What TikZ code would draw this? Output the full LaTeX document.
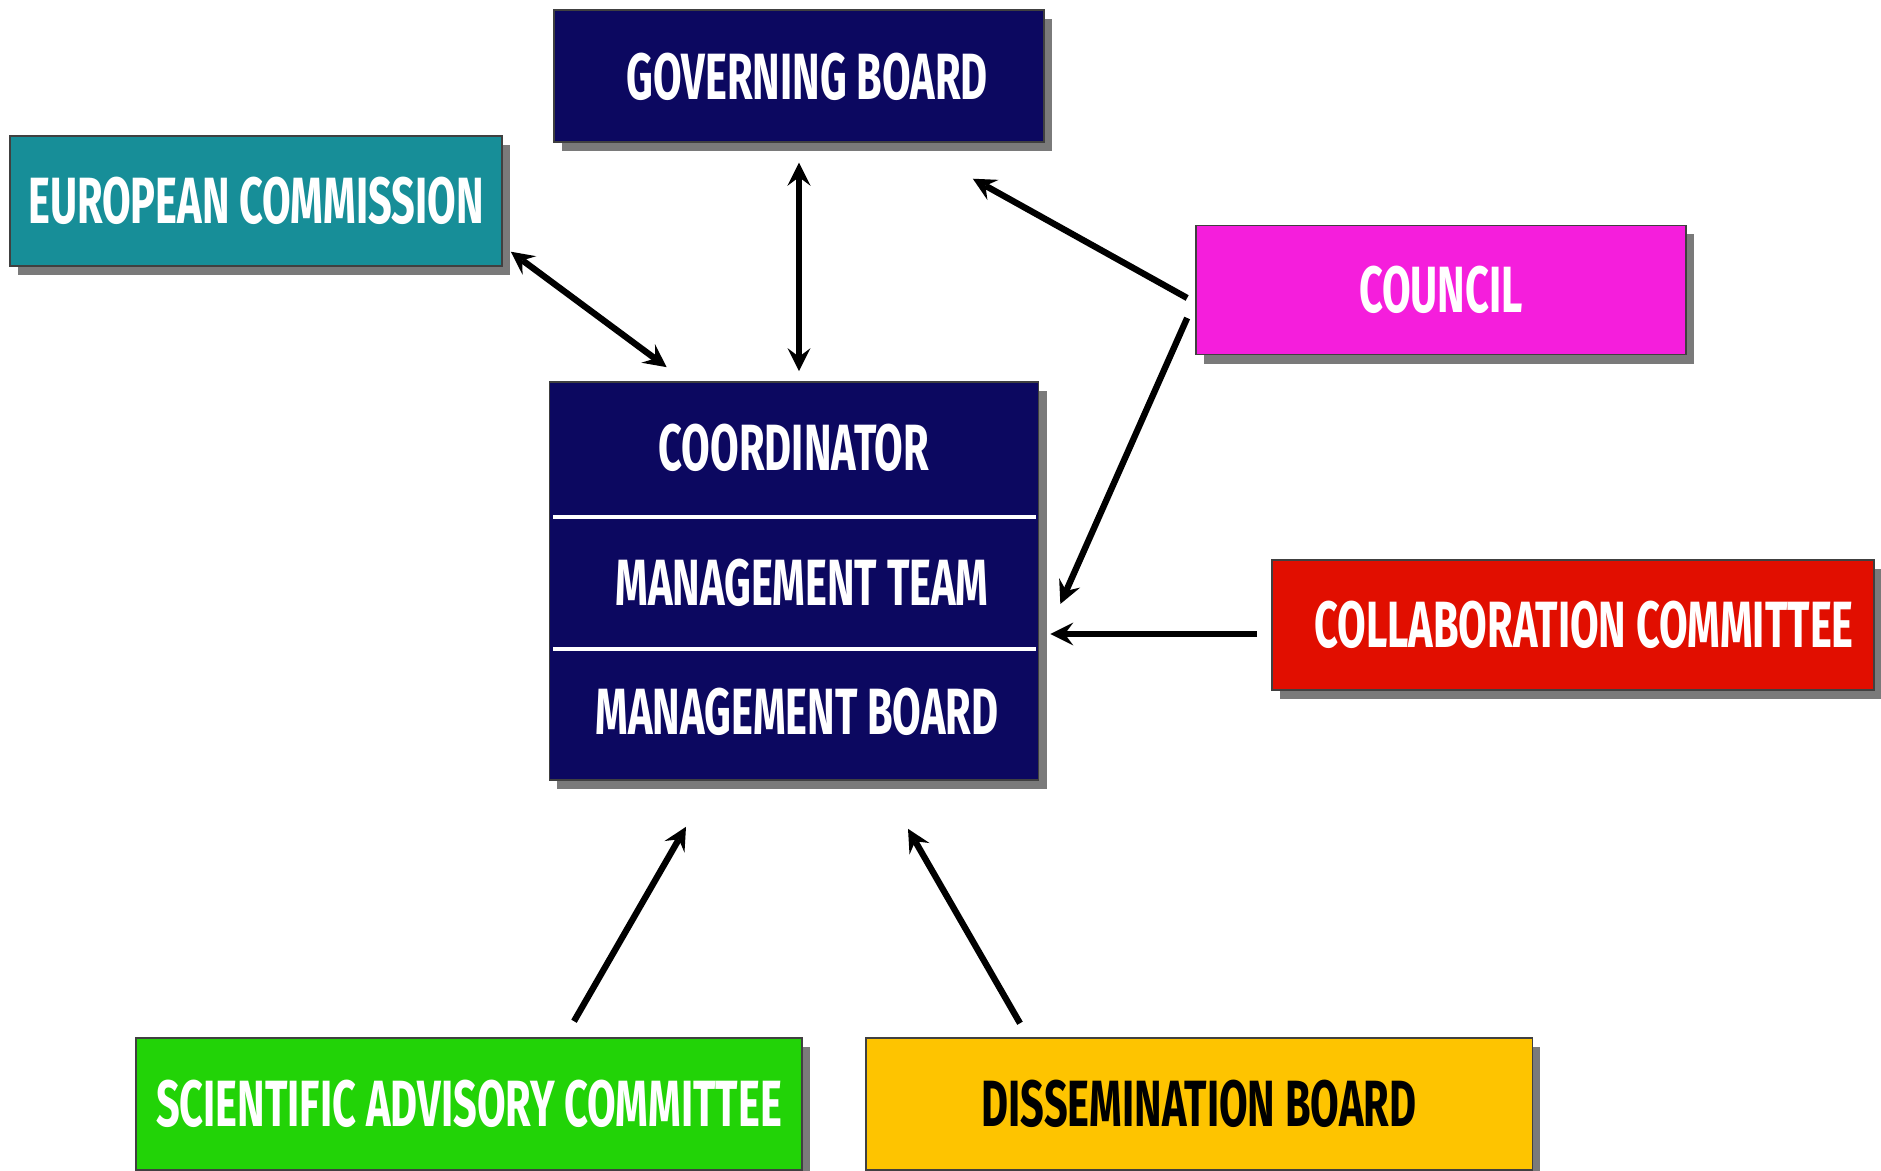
\documentclass[tikz,border=0pt]{standalone}
\usepackage{fontspec}
\setmainfont{Fira Sans}[FakeStretch=0.635]
\usetikzlibrary{calc,shadows}
\definecolor{boardnavy}{RGB}{12,8,96}
\definecolor{commteal}{RGB}{23,142,152}
\definecolor{councilpink}{RGB}{245,30,220}
\definecolor{collabred}{RGB}{225,14,0}
\definecolor{sciencegreen}{RGB}{34,211,7}
\definecolor{dissyellow}{RGB}{254,196,0}

\begin{document}
\begin{tikzpicture}[x=0.01cm, y=-0.01cm, >=stealth, line width=1.8pt]
	\tikzstyle{every node}=[rectangle, inner sep=0pt, text=white, font=\bfseries\fontsize{18.6}{20}\selectfont]
	\tikzstyle{unit}=[draw=black!75, line width=0.4pt, drop shadow={shadow xshift=0.08cm, shadow yshift=-0.09cm, fill=black!80, opacity=0.65}]
	\useasboundingbox (0,0) rectangle (1881,1171);

	\draw (799,76) node[unit, fill=boardnavy, minimum width=4.9cm, minimum height=1.32cm, text depth=0pt] (gb) {\hspace*{0.16cm}GOVERNING BOARD};
	\draw (256,201) node[unit, fill=commteal, minimum width=4.92cm, minimum height=1.3cm] (ec) {EUROPEAN COMMISSION};
	\draw (1441,290) node[unit, fill=councilpink, minimum width=4.9cm, minimum height=1.29cm] (council) {COUNCIL};
	\draw (1573,625) node[unit, fill=collabred, minimum width=6.02cm, minimum height=1.3cm] (cc) {\hspace*{0.22cm}COLLABORATION COMMITTEE};
	\draw (469,1104) node[unit, fill=sciencegreen, minimum width=6.66cm, minimum height=1.32cm] (sac) {SCIENTIFIC ADVISORY COMMITTEE};
	\draw (1199,1104) node[unit, fill=dissyellow, minimum width=6.66cm, minimum height=1.32cm, text=black] (db) {DISSEMINATION BOARD};

	% management block
	\draw (794,581) node[unit, fill=boardnavy, minimum width=4.89cm, minimum height=3.98cm] (central) {};
	\draw (794,448) node (coord) {COORDINATOR};
	\draw (802,583) node (mteam) {MANAGEMENT TEAM};
	\draw (797,712) node (mboard) {MANAGEMENT BOARD};
	\draw[white, line width=1.1pt] (553,517) -- (1036,517);
	\draw[white, line width=1.1pt] (553,649) -- (1036,649);

	\draw[<->] ($(ec.south east)+(8,-15)$) -- ($(central.north west)+(118,-14)$);
	\draw[<->] ($(gb.south)+(0,20)$) -- ($(gb.south |- central.north)+(0,-10)$);
	\draw[->] ($(council.west)+(-8,8)$) -- ($(gb.south east)+(-72,36)$);
	\draw[->] ($(council.west)+(-8,28)$) -- ($(central.east)+(21,23)$);
	\draw[->] ($(cc.west)+(-14,9)$) -- ($(central.east)+(11,53)$);
	\draw[->] ($(sac.north)+(105,-16)$) -- ($(central.south)+(-108,46)$);
	\draw[->] ($(db.north)+(-179,-14)$) -- ($(central.south)+(114,48)$);
\end{tikzpicture}
\end{document}
